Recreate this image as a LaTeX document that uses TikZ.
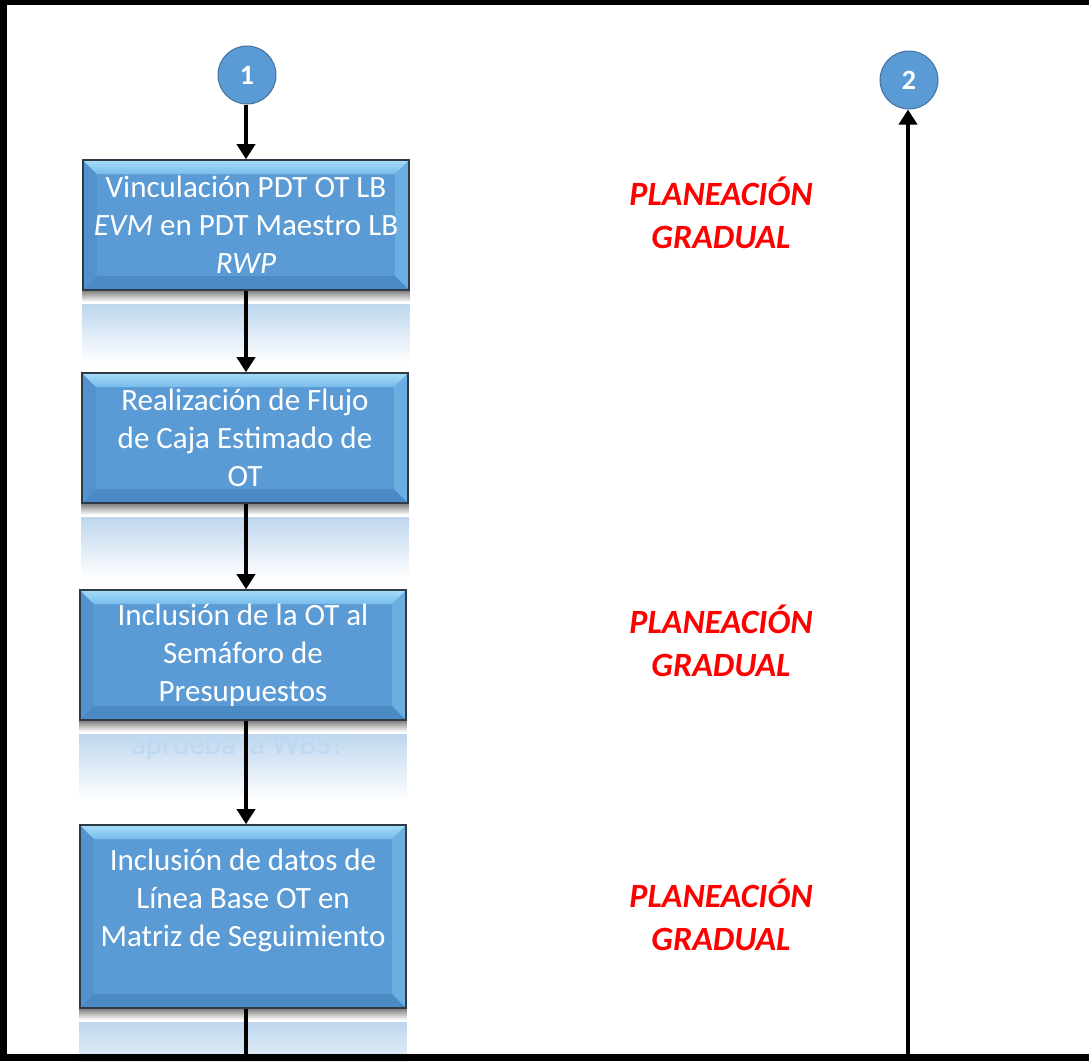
\documentclass[tikz,border=0pt]{standalone}
\usepackage{fontspec}
\setmainfont{Carlito}
\usetikzlibrary{arrows.meta}

\definecolor{boxblue}{HTML}{5B9BD5}
\definecolor{boxedge}{HTML}{2E3B47}
\definecolor{bevtopA}{HTML}{A4DDF8}
\definecolor{bevtopB}{HTML}{78BCEB}
\definecolor{bevleft}{HTML}{5293CE}
\definecolor{bevright}{HTML}{6AAEE2}
\definecolor{bevbottom}{HTML}{4B8AC5}
\definecolor{reflblue}{HTML}{BFD7EE}
\definecolor{ghost}{HTML}{BCD8F2}
\definecolor{markeredge}{HTML}{41719C}

\tikzset{
  flowbox/.style={rectangle, draw=boxedge, line width=1.6pt, fill=boxblue,
    text=white, align=center, inner sep=0pt, minimum width=326pt,
    font=\fontsize{31}{38}\selectfont,
    path picture={
      \coordinate (pnw) at (path picture bounding box.north west);
      \coordinate (pne) at (path picture bounding box.north east);
      \coordinate (psw) at (path picture bounding box.south west);
      \coordinate (pse) at (path picture bounding box.south east);
      \fill[bevleft] (pnw) -- ([shift={(14pt,-14pt)}]pnw) -- ([shift={(14pt,14pt)}]psw) -- (psw) -- cycle;
      \fill[bevright] (pne) -- ([shift={(-14pt,-14pt)}]pne) -- ([shift={(-14pt,14pt)}]pse) -- (pse) -- cycle;
      \fill[bevbottom] (psw) -- ([shift={(14pt,14pt)}]psw) -- ([shift={(-14pt,14pt)}]pse) -- (pse) -- cycle;
      \shade[top color=bevtopA, bottom color=bevtopB]
        (pnw) -- (pne) -- ([shift={(-14pt,-14pt)}]pne) -- ([shift={(14pt,-14pt)}]pnw) -- cycle;
    }},
  marker/.style={circle, minimum size=58pt, inner sep=0pt, fill=boxblue,
    draw=markeredge, line width=1pt, text=white,
    font=\fontsize{28}{30}\selectfont\bfseries},
  gradual/.style={text=red, align=center, inner sep=0pt,
    font=\fontsize{34}{43}\selectfont\bfseries\itshape},
  connector/.style={line width=3.6pt, draw=black, -{Triangle[width=18pt,length=15pt]}},
  plainline/.style={line width=3.6pt, draw=black},
}

% shadow and faded mirror panel under a box
\newcommand\mirrorpanel[2]{%
  \shade[top color=black!45, bottom color=white]
    ([yshift=-0.8pt]#1.south west) rectangle ([yshift=-11pt]#1.south east);
  \shade[top color=reflblue, bottom color=white]
    ([yshift=-14pt]#1.south west) rectangle ([yshift=-#2]#1.south east);
}

\begin{document}
\begin{tikzpicture}[x=1pt, y=-1pt]
  \useasboundingbox (0,0) rectangle (1089,1061);
  \fill[white] (0,0) rectangle (1089,1061);

  % process boxes
  \node[flowbox, minimum height=130pt] (b1) at (246,225)
    {Vinculación PDT OT LB\\ \textit{EVM} en PDT Maestro LB\\ \textit{RWP}};
  \node[flowbox, minimum height=130pt] (b2) at (245,438)
    {Realización de Flujo\\ de Caja Estimado de\\ OT};
  \node[flowbox, minimum height=130pt] (b3) at (243,655)
    {Inclusión de la OT al\\ Semáforo de\\ Presupuestos};
  \node[flowbox, minimum height=183pt] (b4) at (243,916.5)
    {Inclusión de datos de\\ Línea Base OT en\\ Matriz de Seguimiento\\ \mbox{}};

  % mirror panels
  \mirrorpanel{b1}{72pt}
  \mirrorpanel{b2}{75pt}
  \mirrorpanel{b3}{80pt}
  \mirrorpanel{b4}{80pt}
  \begin{scope}
    \clip ([yshift=-14pt]b3.south west) rectangle ([yshift=-80pt]b3.south east);
    \node[text=ghost, font=\fontsize{31}{34}\selectfont, inner sep=0pt]
      (ghosttext) at (238,746) {aprueba la WBS?};
  \end{scope}

  % connector markers
  \node[marker] (c1) at (247,75) {1};
  \node[marker] (c2) at (909,80) {2};

  % side labels
  \node[gradual] (g1) at (721,213) {PLANEACIÓN\\GRADUAL};
  \node[gradual] (g2) at (721,641) {PLANEACIÓN\\GRADUAL};
  \node[gradual] (g3) at (721,915) {PLANEACIÓN\\GRADUAL};

  % flow (all vertical drops on the same column)
  \coordinate (b4end) at (246,1061);
  \coordinate (c2start) at (908,1061);
  \draw[connector] (c1.south -| b1.south) -- (b1.north);
  \draw[connector] (b1.south) -- (b1.south |- b2.north);
  \draw[connector] (b1.south |- b2.south) -- (b1.south |- b3.north);
  \draw[connector] (b1.south |- b3.south) -- (b1.south |- b4.north);
  \draw[plainline] (b1.south |- b4.south) -- (b4end);
  \draw[connector] (c2start) -- (c2start |- c2.south);

  % frame
  \fill[black] (0,0) rectangle (1089,5);
  \fill[black] (0,0) rectangle (7,1061);
  \fill[black] (0,1054) rectangle (1089,1061);
\end{tikzpicture}
\end{document}
